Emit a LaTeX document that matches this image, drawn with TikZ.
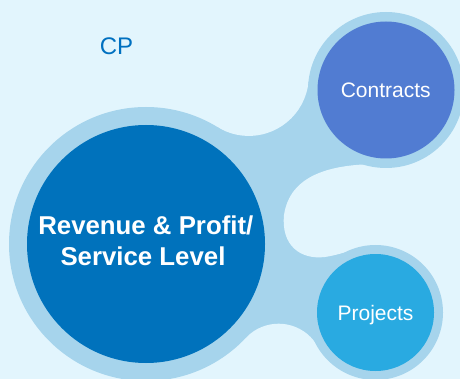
\documentclass[tikz,border=0pt]{standalone}
\usepackage{fontspec}
\setmainfont{Liberation Sans}
\definecolor{bg}{RGB}{226,245,253}
\definecolor{ring}{RGB}{166,212,236}
\definecolor{revc}{RGB}{0,114,188}
\definecolor{conc}{RGB}{81,124,210}
\definecolor{proc}{RGB}{41,170,225}
\definecolor{cpc}{RGB}{0,112,192}
\begin{document}
\begin{tikzpicture}[x=1pt,y=-1pt,
  disc/.style={circle, inner sep=0pt, draw=none},
  lbl/.style={text=white, font=\fontsize{21}{25}\selectfont, anchor=base, inner sep=0pt},
  biglbl/.style={text=white, font=\bfseries\fontsize{25.8}{30}\selectfont, anchor=base, inner sep=0pt}]
\useasboundingbox (0,0) rectangle (460,379);
\fill[bg] (0,0) rectangle (460,379);
% connecting body of the halo
\fill[ring] (146,244) -- (217.5,127.1) -- (308.5,82) -- (386,90) -- (375.5,312.5) -- (317.5,346.1) -- (245.8,337.9) -- cycle;
% concave cut-outs
\fill[bg] (248.8,75.9) circle (60);
\fill[bg] (278.6,368.7) circle (45);
\fill[bg] (470,165) -- (380,164) .. controls (330,164) and (290,175) .. (284,215)
  .. controls (281,245) and (300,260) .. (325,257)
  .. controls (345,254) and (360,245) .. (400,244) -- (470,244) -- cycle;
% halos
\node[disc, fill=ring, minimum size=274pt] (revhalo) at (146,244) {};
\node[disc, fill=ring, minimum size=156pt] (conhalo) at (386,90) {};
\node[disc, fill=ring, minimum size=135pt] (prohalo) at (375.5,312.5) {};
% discs
\node[disc, fill=revc, minimum size=238pt] (rev) at (146,244) {};
\node[disc, fill=conc, minimum size=137pt] (con) at (386,90) {};
\node[disc, fill=proc, minimum size=117pt] (pro) at (375.5,312.5) {};
% texts
\node[anchor=base, inner sep=0pt, text=cpc, font=\fontsize{24}{28}\selectfont] (cp) at (116.5,54.3) {CP};
\node[lbl] (conlbl) at (385.7,97.3) {Contracts};
\node[lbl] (prolbl) at (375.5,320.3) {Projects};
\node[biglbl] (revlbl1) at (145.8,235) {Revenue \& Profit/};
\node[biglbl] (revlbl2) at (143,265.7) {Service Level};
\end{tikzpicture}
\end{document}
